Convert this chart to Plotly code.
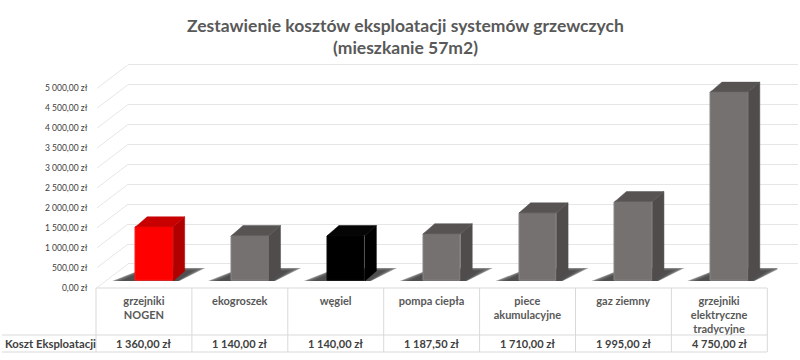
import plotly.graph_objects as go

categories = ["grzejniki<br>NOGEN", "ekogroszek", "węgiel", "pompa ciepła",
              "piece<br>akumulacyjne", "gaz ziemny", "grzejniki<br>elektryczne<br>tradycyjne"]
costs = [1360, 1140, 1140, 1187.5, 1710, 1995, 4750]
cost_labels = ["1 360,00 zł", "1 140,00 zł", "1 140,00 zł", "1 187,50 zł",
               "1 710,00 zł", "1 995,00 zł", "4 750,00 zł"]
tick_values = [0, 500, 1000, 1500, 2000, 2500, 3000, 3500, 4000, 4500, 5000]
tick_labels = ["0,00 zł", "500,00 zł", "1 000,00 zł", "1 500,00 zł", "2 000,00 zł", "2 500,00 zł",
               "3 000,00 zł", "3 500,00 zł", "4 000,00 zł", "4 500,00 zł", "5 000,00 zł"]
face_colors = ["#fe0000", "#767171", "#000000", "#767171", "#767171", "#767171", "#767171"]
edge_colors = ["#ff1a1a", "#8a8585", "#0a0a0a", "#8a8585", "#8a8585", "#8a8585", "#8a8585"]
side_colors = ["#b00000", "#504c4c", "#000000", "#504c4c", "#504c4c", "#504c4c", "#504c4c"]
top_colors = ["#c80000", "#575353", "#050505", "#575353", "#575353", "#575353", "#575353"]
row_header = "Koszt Eksploatacji"
title_lines = ["Zestawienie kosztów eksploatacji systemów grzewczych", "(mieszkanie 57m2)"]

W, H = 800, 360
PLOT_T, PLOT_H = 5, 350         # plotly keeps 5 px top and bottom here
PER_UNIT = 19.93 / 500          # pixels per zł
COL = 95.9                      # pixels per category
GRID = "#e6e6e6"
TABLE = "#d9d9d9"
TEXT = "#595959"
FONT = "Lato, Carlito, 'Open Sans', sans-serif"

fx = lambda p: p / W
fy = lambda p: 1 - (p - PLOT_T) / PLOT_H
ydom = lambda base: [fy(base), fy(base - 5000 * PER_UNIT)]

FRONT, BACK, PLANE = 287.6, 264.0, 281.0
DX = 11.5 / COL                 # bar depth in category units
DY = 10 / PER_UNIT              # bar depth in value units
BW = 37.5 / COL
idx = list(range(len(costs)))

fig = go.Figure()

# back wall grid (xy)
fig.add_trace(go.Scatter(x=[0], y=[0], mode="markers", marker_opacity=0, xaxis="x", yaxis="y",
                         hoverinfo="skip", showlegend=False))
# front axis with the labels (x2y2)
fig.add_trace(go.Scatter(x=idx, y=[0] * len(idx), mode="markers", marker_opacity=0, xaxis="x2", yaxis="y2",
                         hoverinfo="skip", showlegend=False))

# floor shadows (x3y3)
for i in idx:
    for grow, alpha in [(8, 0.22), (5, 0.30), (2, 0.38), (0, 0.45)]:
        g = grow / COL
        gy = grow * 0.3 / PER_UNIT
        xl, xr = i - BW / 2, i + BW / 2
        sx = [xl - 26 / COL + g * 1.4, xr + 4 / COL, xr + 32 / COL - g * 1.5, xr - 6 / COL, xl + 2 / COL]
        sy = [gy * 0.3 - 1 / PER_UNIT, gy * 0.3 - 1 / PER_UNIT, 13 / PER_UNIT - gy, 13 / PER_UNIT - gy, 10 / PER_UNIT - gy]
        fig.add_trace(go.Scatter(x=sx + sx[:1], y=sy + sy[:1], mode="lines", fill="toself", line_width=0,
                                 fillcolor=f"rgba(40,40,40,{alpha})", xaxis="x3", yaxis="y3",
                                 hoverinfo="skip", showlegend=False))

# bars (x4y4)
fig.add_trace(go.Bar(x=idx, y=costs, width=BW, xaxis="x4", yaxis="y4", showlegend=False,
                     marker=dict(color=face_colors, line=dict(color=edge_colors, width=1), cornerradius=2)))
for i, v in zip(idx, costs):
    xl, xr = i - BW / 2, i + BW / 2
    fig.add_trace(go.Scatter(x=[xr, xr + DX, xr + DX, xr, xr], y=[v, v + DY, DY, 0, v], mode="lines",
                             fill="toself", fillcolor=side_colors[i], line=dict(width=0.5, color=side_colors[i]),
                             xaxis="x4", yaxis="y4", hoverinfo="skip", showlegend=False))
    fig.add_trace(go.Scatter(x=[xl, xr, xr + DX, xl + DX, xl], y=[v, v, v + DY, v + DY, v], mode="lines",
                             fill="toself", fillcolor=top_colors[i], line=dict(width=0.5, color=top_colors[i]),
                             xaxis="x4", yaxis="y4", hoverinfo="skip", showlegend=False))

# wall / floor diagonals (x5y5)
rise = (FRONT - BACK) / PER_UNIT
for v in tick_values:
    fig.add_trace(go.Scatter(x=[0, 1], y=[v, v + rise], mode="lines", line=dict(color=GRID, width=1),
                             xaxis="x5", yaxis="y5", hoverinfo="skip", showlegend=False))

hidden = dict(visible=False, fixedrange=True)
PAD = 250  # zł of slack so the outermost grid lines are not dropped at the domain edge
layout = dict(
    width=W, height=H, margin=dict(l=0, r=0, t=0, b=0), autosize=False,
    paper_bgcolor="white", plot_bgcolor="rgba(0,0,0,0)",
    font=dict(family=FONT, color=TEXT), bargap=0,
    xaxis=dict(hidden, domain=[fx(128), fx(798)], range=[0, 1], anchor="y"),
    yaxis=dict(domain=[fy(BACK + PAD * PER_UNIT), fy(BACK - (5000 + PAD) * PER_UNIT)], range=[-PAD, 5000 + PAD],
               anchor="x", tickvals=tick_values, showticklabels=False,
               showgrid=True, gridcolor=GRID, gridwidth=1, zeroline=False, showline=False, ticks="", fixedrange=True),
    xaxis2=dict(domain=[fx(96), fx(767)], range=[-0.5, 6.5], anchor="y2", tickvals=idx,
                ticktext=[f"<b>{c.replace('<br>', '</b><br><b>')}</b>" for c in categories],
                tickfont=dict(size=11, color=TEXT, family=FONT), tickangle=0, ticks="outside", ticklen=3,
                tickcolor="rgba(0,0,0,0)", showgrid=False, zeroline=False, showline=False, fixedrange=True),
    yaxis2=dict(domain=ydom(FRONT), range=[0, 5000], anchor="x2", tickvals=tick_values, ticktext=tick_labels,
                tickfont=dict(size=8.5, color="#404040", family=FONT), ticks="outside", ticklen=6,
                tickcolor="rgba(0,0,0,0)", showgrid=False, zeroline=False, showline=False, fixedrange=True),
    xaxis3=dict(hidden, domain=[fx(106.5), fx(777.5)], range=[-0.5, 6.5], anchor="y3"),
    yaxis3=dict(hidden, domain=ydom(PLANE), range=[0, 5000], anchor="x3"),
    xaxis4=dict(hidden, domain=[fx(106.5), fx(777.5)], range=[-0.5, 6.5], anchor="y4"),
    yaxis4=dict(hidden, domain=ydom(PLANE), range=[0, 5000], anchor="x4"),
    xaxis5=dict(hidden, domain=[fx(97), fx(128)], range=[0, 1], anchor="y5"),
    yaxis5=dict(hidden, domain=[fy(FRONT), fy(BACK - 5000 * PER_UNIT)], range=[0, 5000 + rise], anchor="x5"),
)
fig.update_layout(**layout)

# table rules
table_v = [96 + COL * k for k in range(8)]
shapes = []
for x in table_v:
    shapes.append(dict(type="line", xref="paper", yref="paper", x0=fx(x), x1=fx(x), y0=fy(288), y1=fy(352),
                       line=dict(color=TABLE, width=1)))
shapes.append(dict(type="line", xref="paper", yref="paper", x0=fx(96), x1=fx(767), y0=fy(288), y1=fy(288),
                   line=dict(color=TABLE, width=1)))
shapes.append(dict(type="line", xref="paper", yref="paper", x0=fx(2), x1=fx(767), y0=fy(335), y1=fy(335),
                   line=dict(color=TABLE, width=1)))
shapes.append(dict(type="line", xref="paper", yref="paper", x0=fx(2), x1=fx(767), y0=fy(352), y1=fy(352),
                   line=dict(color=TABLE, width=1)))
fig.update_layout(shapes=shapes)

annotations = [dict(text=f"<b>{cost_labels[i]}</b>", x=i, xref="x2", y=fy(343.5), yref="paper", yanchor="middle",
                    showarrow=False, font=dict(size=11, color="#404040", family=FONT)) for i in idx]
annotations.append(dict(text=f"<b>{row_header}</b>", x=fx(3), xref="paper", xanchor="left", y=fy(343.5), yref="paper",
                        yanchor="middle", showarrow=False, font=dict(size=11.3, color="#404040", family=FONT)))
annotations.append(dict(text=f"<b>{title_lines[0]}</b>", x=fx(405), xref="paper", xanchor="center", y=fy(25), yref="paper",
                        yanchor="middle", showarrow=False, font=dict(size=17.5, color=TEXT, family=FONT)))
annotations.append(dict(text=f"<b>{title_lines[1]}</b>", x=fx(405), xref="paper", xanchor="center", y=fy(47), yref="paper",
                        yanchor="middle", showarrow=False, font=dict(size=17.5, color=TEXT, family=FONT)))
fig.update_layout(annotations=annotations)

fig.write_html("out.html", config=dict(displayModeBar=False),
               post_script="document.body.style.margin='0';document.body.style.overflow='hidden';")
